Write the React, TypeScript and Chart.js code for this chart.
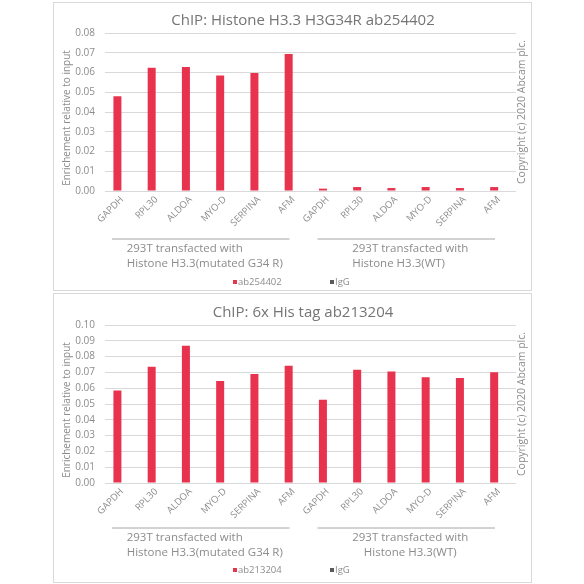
import React, { useEffect, useRef } from 'react';
import { Chart, registerables } from 'chart.js';
Chart.register(...registerables);

const genes = ['GAPDH', 'RPL30', 'ALDOA', 'MYO-D', 'SERPINA', 'AFM'];
const categories = [...genes, ...genes];
const groupNames = [
  ['293T transfacted with', 'Histone H3.3(mutated G34 R)'],
  ['293T transfacted with', 'Histone H3.3(WT)'],
];
const h33Title = 'ChIP: Histone H3.3 H3G34R ab254402';
const h33Antibody = 'ab254402';
const h33Values = [0.048, 0.0624, 0.0628, 0.0585, 0.0597, 0.0694, 0.0012, 0.002, 0.0015, 0.002, 0.0015, 0.002];
const h33IgG = [0, 0, 0, 0, 0, 0, 0, 0, 0, 0, 0, 0];
const h33Max = 0.08;
const hisTitle = 'ChIP: 6x His tag ab213204';
const hisAntibody = 'ab213204';
const hisValues = [0.0585, 0.0735, 0.0869, 0.0645, 0.069, 0.0742, 0.0527, 0.0716, 0.0705, 0.067, 0.0665, 0.0701];
const hisIgG = [0, 0, 0, 0, 0, 0, 0, 0, 0, 0, 0, 0];
const hisMax = 0.1;
const yAxisTitle = 'Enrichement relative to input';
const copyright = 'Copyright (c) 2020 Abcam plc.';
const igGLabel = 'IgG';

const RED = '#E8334F';
const GREY = '#595959';
const TEXT = '#8c8c8c';
const FONT = '"Open Sans", "DejaVu Sans", sans-serif';

type PanelProps = {
  title: string;
  antibody: string;
  values: number[];
  igg: number[];
  max: number;
  top: number;
  height: number;
  padTop: number;
  lineY: number;
  textY: number;
  legendY: number;
  aligns: ('left' | 'center')[];
};

function Panel(p: PanelProps) {
  const ref = useRef<HTMLCanvasElement>(null);
  useEffect(() => {
    const canvas = ref.current!;
    const W = 479;
    const H = p.height;
    const deco = {
      id: 'deco',
      beforeDraw(chart: any) {
        const ctx = chart.ctx;
        ctx.save();
        ctx.fillStyle = '#fff';
        ctx.fillRect(0, 0, W, H);
        ctx.restore();
      },
      afterDraw(chart: any) {
        const ctx = chart.ctx;
        const area = chart.chartArea;
        const xs = chart.scales.x;
        ctx.save();
        ctx.strokeStyle = '#d9d9d9';
        ctx.lineWidth = 1;
        ctx.strokeRect(0.5, 0.5, W - 1, H - 1);
        // title
        ctx.fillStyle = '#757575';
        ctx.font = `15px ${FONT}`;
        ctx.textAlign = 'center';
        ctx.textBaseline = 'middle';
        ctx.fillText(p.title, 250, p.padTop - 12);
        // y title
        ctx.font = `10px ${FONT}`;
        ctx.fillStyle = TEXT;
        ctx.save();
        ctx.translate(14, (area.top + area.bottom) / 2 + 6);
        ctx.rotate(-Math.PI / 2);
        ctx.fillText(yAxisTitle, 0, 0);
        ctx.restore();
        // copyright
        ctx.save();
        ctx.translate(area.right + 6, (area.top + area.bottom) / 2);
        ctx.rotate(-Math.PI / 2);
        ctx.font = `10.5px ${FONT}`;
        ctx.fillText(copyright, 0, 0);
        ctx.restore();
        // group lines and labels
        const catW = (xs.right - xs.left) / categories.length;
        groupNames.forEach((lines, g) => {
          const gl = xs.left + g * 6 * catW;
          const gr = gl + 6 * catW;
          const x0 = gl + 7;
          const x1 = gr - 21;
          ctx.strokeStyle = '#a6a6a6';
          ctx.beginPath();
          ctx.moveTo(x0, p.lineY + 0.5);
          ctx.lineTo(x1, p.lineY + 0.5);
          ctx.stroke();
          ctx.font = `11.5px ${FONT}`;
          ctx.fillStyle = TEXT;
          const center = (x0 + x1) / 2 + 4;
          const maxW = Math.max(...lines.map((l) => ctx.measureText(l).width));
          lines.forEach((l, i) => {
            if (p.aligns[g] === 'left') {
              ctx.textAlign = 'left';
              ctx.fillText(l, center - maxW / 2, p.textY + i * 14.5);
            } else {
              ctx.textAlign = 'center';
              ctx.fillText(l, center, p.textY + i * 14.5);
            }
          });
        });
        // legend
        ctx.font = `9.5px ${FONT}`;
        ctx.textAlign = 'left';
        const legendItems = [
          { label: p.antibody, color: RED, x: 180 },
          { label: igGLabel, color: GREY, x: 277 },
        ];
        legendItems.forEach((it) => {
          ctx.fillStyle = it.color;
          ctx.fillRect(it.x, p.legendY - 2, 4, 4);
          ctx.fillStyle = TEXT;
          ctx.fillText(it.label, it.x + 5, p.legendY);
        });
        ctx.restore();
      },
    };
    const chart = new Chart(canvas, {
      type: 'bar',
      data: {
        labels: categories,
        datasets: [
          { label: p.antibody, data: p.values, backgroundColor: RED, borderWidth: 0, categoryPercentage: 0.55, barPercentage: 0.85 },
          { label: igGLabel, data: p.igg, backgroundColor: GREY, borderWidth: 0, categoryPercentage: 0.55, barPercentage: 0.85 },
        ],
      },
      options: {
        responsive: false,
        animation: false,
        devicePixelRatio: 1,
        layout: { padding: { left: 12, right: 16, top: p.padTop, bottom: H - p.padTop - 158 - 40 } },
        plugins: { legend: { display: false }, tooltip: { enabled: false }, title: { display: false } },
        scales: {
          x: {
            grid: { display: false, drawTicks: false },
            border: { display: false },
            ticks: {
              color: TEXT,
              font: { family: FONT, size: 9.5 },
              minRotation: 45,
              maxRotation: 45,
              autoSkip: false,
              padding: 3,
            },
            afterFit(s: any) {
              s.height = 40;
            },
          },
          y: {
            min: 0,
            max: p.max,
            grid: { color: '#d9d9d9', drawTicks: false, lineWidth: 1 },
            border: { display: false },
            ticks: {
              stepSize: 0.01,
              color: TEXT,
              font: { family: FONT, size: 10 },
              padding: 10,
              callback: (v: any) => Number(v).toFixed(2),
            },
            afterFit(s: any) {
              s.width = 40;
            },
          },
        },
      },
      plugins: [deco],
    } as any);
    return () => chart.destroy();
  }, []);
  return (
    <canvas
      ref={ref}
      width={479}
      height={p.height}
      style={{ position: 'absolute', left: 53, top: p.top, width: 479, height: p.height }}
    />
  );
}

export default function App() {
  return (
    <div style={{ position: 'fixed', left: 0, top: 0, width: 584, height: 584, background: '#fff' }}>
      <Panel
        title={h33Title}
        antibody={h33Antibody}
        values={h33Values}
        igg={h33IgG}
        max={h33Max}
        top={2}
        height={289}
        padTop={31}
        lineY={236.5}
        textY={247}
        legendY={280}
        aligns={['left', 'left']}
      />
      <Panel
        title={hisTitle}
        antibody={hisAntibody}
        values={hisValues}
        igg={hisIgG}
        max={hisMax}
        top={293}
        height={290}
        padTop={32}
        lineY={234.5}
        textY={245}
        legendY={277}
        aligns={['left', 'center']}
      />
    </div>
  );
}
